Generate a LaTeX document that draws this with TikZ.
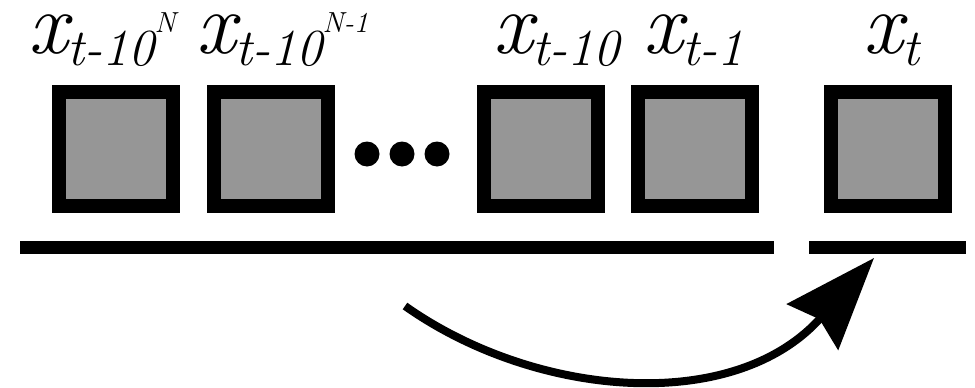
\documentclass[tikz,border=0pt]{standalone}
\usepackage{fontspec}
\usetikzlibrary{arrows.meta}
\definecolor{boxgray}{RGB}{150,150,150}
\newcommand{\xmain}{{\fontsize{88}{88}\selectfont\itshape x}}
\newcommand{\xsub}[1]{\raisebox{-12pt}{\fontsize{52}{52}\selectfont\itshape #1}}
\newcommand{\xsup}[1]{\raisebox{21pt}{\fontsize{29}{29}\selectfont\itshape #1}}
\begin{document}
\begin{tikzpicture}[x=1pt,y=-1pt,
  cell/.style={draw=black, fill=boxgray, line width=14pt, minimum width=114pt, minimum height=114pt, inner sep=0pt, outer sep=0pt},
  lab/.style={anchor=base west, inner sep=0pt, outer sep=0pt},
  dot/.style={circle, fill=black, minimum size=25pt, inner sep=0pt},
  bar/.style={line width=13pt},
  curve/.style={line width=8pt, -{Stealth[length=92pt,width=68pt,inset=10pt]}}]
\useasboundingbox (0,0) rectangle (975,388);
% boxes
\node[cell] (b1) at (116,149) {};
\node[cell] (b2) at (270.5,149) {};
\node[cell] (b3) at (541,149) {};
\node[cell] (b4) at (694.5,149) {};
\node[cell] (b5) at (887.5,149) {};
% dots
\node[dot] (d1) at (367,154) {};
\node[dot] (d2) at (402,154) {};
\node[dot] (d3) at (437,154) {};
% labels
\node[lab] (l1) at (28,53) {\xmain\xsub{t-10}\xsup{N}};
\node[lab] (l2) at (196,53) {\xmain\xsub{t-10}\xsup{N-1}};
\node[lab] (l3) at (493,53) {\xmain\xsub{t-10}};
\node[lab] (l4) at (643,53) {\xmain\xsub{t-1}};
\node[lab] (l5) at (863,53) {\xmain\xsub{t}};
% bars
\coordinate (s1) at (20,247);
\coordinate (e1) at (774,247);
\coordinate (s2) at (809,247);
\coordinate (e2) at (966,247);
\draw[bar] (s1) -- (e1);
\draw[bar] (s2) -- (e2);
% arrow
\coordinate (as) at (405,306);
\coordinate (ae) at (874,258);
\draw[curve] (as) .. controls (535,398) and (734,415) .. (ae);
\end{tikzpicture}
\end{document}
